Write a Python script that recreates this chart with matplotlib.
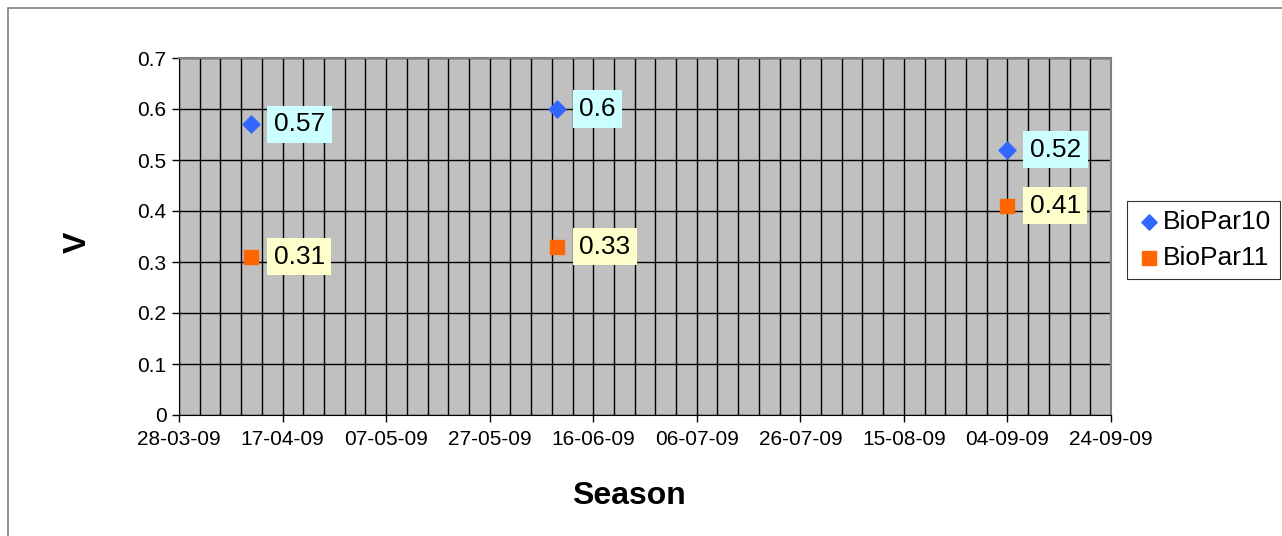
import matplotlib
matplotlib.use("Agg")
import matplotlib.pyplot as plt
import matplotlib.dates as mdates
from matplotlib.patches import Rectangle
import pandas as pd

# data
dates = ["2009-04-11", "2009-06-09", "2009-09-04"]
biopar10 = [0.57, 0.6, 0.52]
biopar11 = [0.31, 0.33, 0.41]
x_ticks = pd.date_range("2009-03-28", "2009-09-24", freq="20D")

d = pd.to_datetime(dates)

plt.rcParams['font.family'] = ['Liberation Sans', 'DejaVu Sans']

fig = plt.figure(figsize=(12.82, 5.36), dpi=100)
ax = fig.add_axes([179/1282, 1-415/536, (1111-179)/1282, (415-58)/536])

# outer chart frame
fig.patches.append(Rectangle((8/1282, -0.1), 1.2, (536-8)/536 + 0.1, transform=fig.transFigure,
                             fill=False, edgecolor='#808080', linewidth=1.2))

ax.set_facecolor('#C0C0C0')
ax.set_xlim(x_ticks[0], x_ticks[-1])
ax.set_ylim(0, 0.7)

ax.set_xticks(x_ticks)
ax.xaxis.set_major_formatter(mdates.DateFormatter('%d-%m-%y'))
ax.set_xticks(pd.date_range(x_ticks[0], x_ticks[-1], freq="4D"), minor=True)
ax.set_yticks([0, 0.1, 0.2, 0.3, 0.4, 0.5, 0.6, 0.7])
ax.set_yticklabels(['0', '0.1', '0.2', '0.3', '0.4', '0.5', '0.6', '0.7'])

ax.grid(True, which='major', axis='y', color='black', linewidth=1)
ax.grid(True, which='both', axis='x', color='black', linewidth=1)
ax.set_axisbelow(True)
ax.tick_params(axis='both', which='major', direction='out', length=5, labelsize=15, color='black', width=1)
ax.tick_params(axis='x', which='minor', length=0)
ax.tick_params(axis='x', pad=6)
ax.tick_params(axis='y', pad=4)

for s in ['top', 'right']:
    ax.spines[s].set_color('#808080')
    ax.spines[s].set_linewidth(1.5)
for s in ['left', 'bottom']:
    ax.spines[s].set_color('black')

ax.scatter(d, biopar10, marker='D', s=75, color='#3366FF', label='BioPar10', zorder=3)
ax.scatter(d, biopar11, marker='s', s=110, color='#FF6600', label='BioPar11', zorder=3)

for x, y in zip(d, biopar10):
    ax.annotate(f"{y:g}", (x, y), xytext=(16, 0), textcoords='offset points', fontsize=19,
                va='center', ha='left',
                bbox=dict(boxstyle='square,pad=0.25', facecolor='#CCFFFF', edgecolor='none'))
for x, y in zip(d, biopar11):
    ax.annotate(f"{y:g}", (x, y), xytext=(16, 0), textcoords='offset points', fontsize=19,
                va='center', ha='left',
                bbox=dict(boxstyle='square,pad=0.25', facecolor='#FFFFCC', edgecolor='none'))

ax.set_xlabel('Season', fontsize=23, fontweight='bold')
ax.set_ylabel('V', fontsize=23, fontweight='bold')
ax.xaxis.set_label_coords(0.483, -0.184)
ax.yaxis.set_label_coords(-0.093, 0.485)

leg = ax.legend(loc='center left', bbox_to_anchor=(1.017, 0.49), fontsize=19, frameon=True,
                fancybox=False, edgecolor='black', handletextpad=0.0, borderpad=0.35,
                labelspacing=0.45, handlelength=1.0, borderaxespad=0, markerscale=0.9)
leg.get_frame().set_linewidth(0.8)

fig.savefig('out.png', dpi=100, facecolor='white')
